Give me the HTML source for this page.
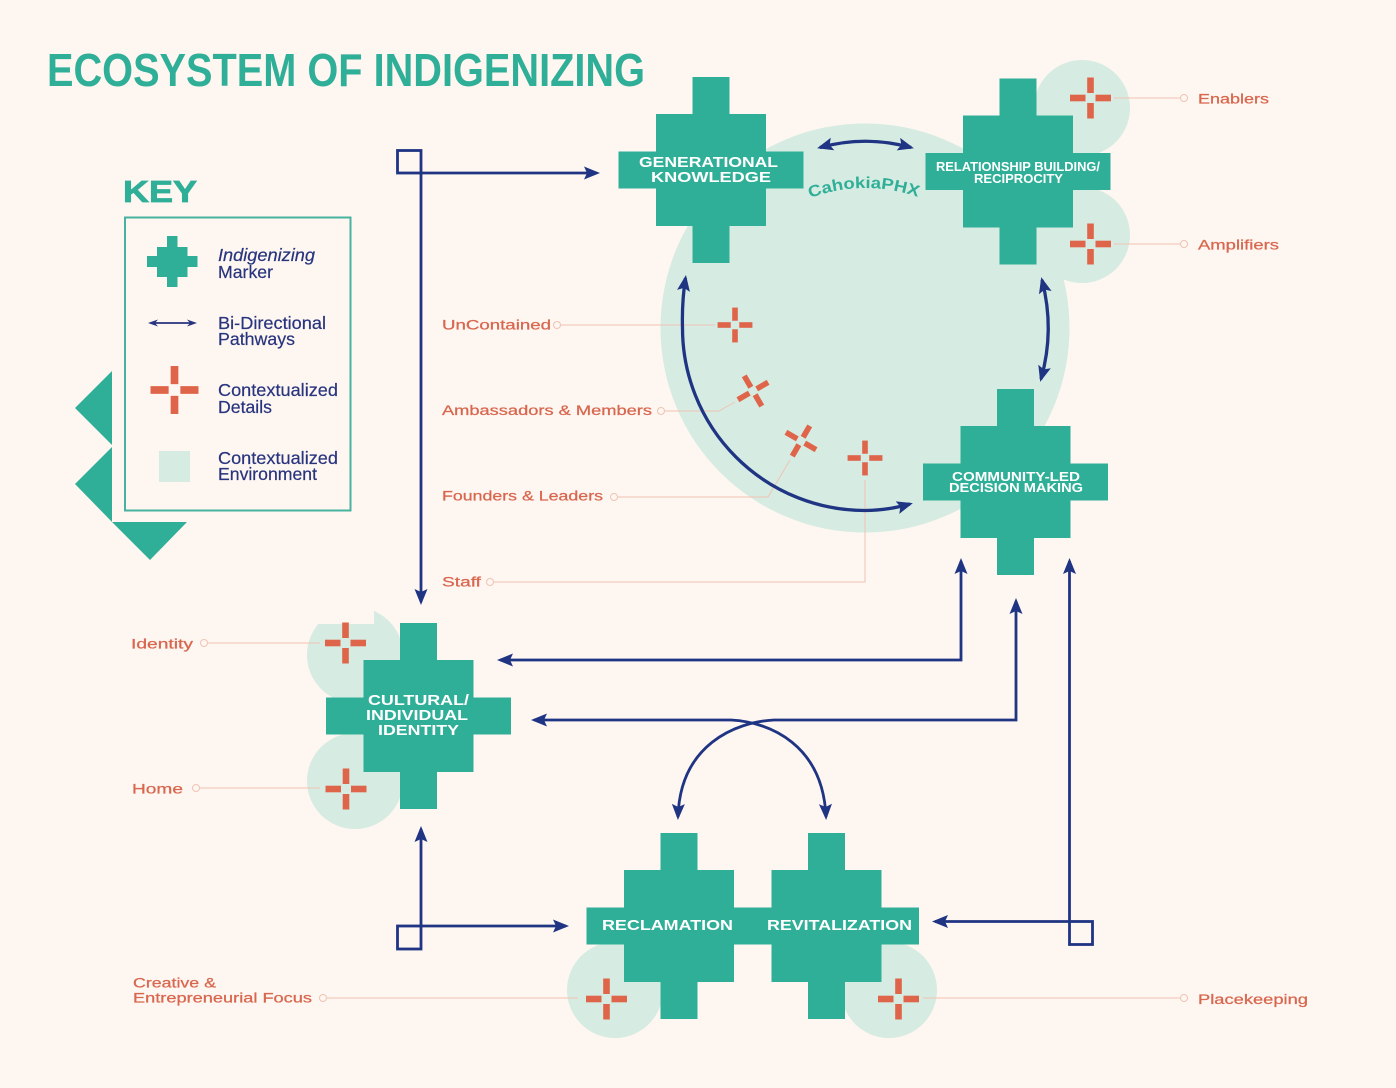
<!DOCTYPE html>
<html><head><meta charset="utf-8"><title>Ecosystem of Indigenizing</title>
<style>
html,body{margin:0;padding:0;background:#fef6f0}
svg{display:block}
text{font-family:"Liberation Sans",sans-serif}
.w{fill:#fff;font-weight:700;font-size:15px}
.l{fill:#d8674f;font-size:13.500px;stroke:#d8674f;stroke-width:.25}
.k{fill:#27347e;font-size:17.500px;stroke:#27347e;stroke-width:.2}
</style></head><body>
<svg width="1396" height="1088" viewBox="0 0 1396 1088" xmlns="http://www.w3.org/2000/svg">
<defs>
<marker id="a" markerUnits="userSpaceOnUse" markerWidth="24" markerHeight="18" refX="17" refY="9" orient="auto-start-reverse"><path d="M20 9L4 2.500L7 9L4 15.500z" fill="#1f3483"/></marker>
<marker id="s" markerUnits="userSpaceOnUse" markerWidth="14" markerHeight="12" refX="8" refY="6" orient="auto-start-reverse"><path d="M11 6L1 2.500L4 6L1 9.500z" fill="#27347e"/></marker>
<path id="cx" d="M-18.500-93H18.500V-56H55V-18.500H92.500V18.500H55V56H18.500V93H-18.500V56H-55V18.500H-92.500V-18.500H-55V-56H-18.500z" fill="#30af98"/>
<g id="rc" fill="#df654a"><rect x="-3.300" y="-20.500" width="6.600" height="15.500"/><rect x="-3.300" y="5" width="6.600" height="15.500"/><rect x="-20.500" y="-3.300" width="15.500" height="6.600"/><rect x="5" y="-3.300" width="15.500" height="6.600"/></g>
<path id="cp" d="M810 198Q865 178 921 198" fill="none"/>
</defs>
<rect width="1396" height="1088" fill="#fef6f0"/>

<!-- title -->
<text x="47" y="86" font-size="46" font-weight="700" fill="#30af98" textLength="598" lengthAdjust="spacingAndGlyphs">ECOSYSTEM OF INDIGENIZING</text>

<!-- environments -->
<g fill="#d6ebe2">
<circle cx="865" cy="328" r="204.500"/>
<circle cx="1082" cy="108" r="48"/>
<circle cx="1082" cy="235" r="48"/>
<circle cx="355" cy="655" r="48"/>
<circle cx="355" cy="781" r="48"/>
<circle cx="615" cy="990" r="48"/>
<circle cx="889" cy="990" r="48"/>
</g>
<rect x="300" y="600" width="74" height="24" fill="#fef6f0"/>

<!-- decorative triangles -->
<g fill="#30af98">
<path d="M112 371L75 408L112 445z"/>
<path d="M112 447L75 484L112 522z"/>
<path d="M112 522H187L150 560z"/>
</g>

<!-- key -->
<text x="123" y="202" font-size="31" font-weight="700" fill="#30af98" stroke="#30af98" stroke-width=".8" textLength="74" lengthAdjust="spacingAndGlyphs">KEY</text>
<rect x="125" y="217.500" width="225.500" height="293" fill="none" stroke="#45b39f" stroke-width="2"/>
<path d="M167 236H177.500V247H187.500V256H197.500V267H187.500V277H177.500V287H167V277H157V267H147V256H157V247H167z" fill="#30af98"/>
<line x1="151" y1="323" x2="194" y2="323" stroke="#27347e" stroke-width="1.800" marker-start="url(#s)" marker-end="url(#s)"/>
<use href="#rc" transform="translate(174.500 390) scale(1.170)"/>
<rect x="159" y="451" width="31" height="31" fill="#d6ebe2"/>
<text class="k" x="218" y="261" font-style="italic" textLength="97" lengthAdjust="spacingAndGlyphs">Indigenizing</text>
<text class="k" x="218" y="278" textLength="55" lengthAdjust="spacingAndGlyphs">Marker</text>
<text class="k" x="218" y="329" textLength="108" lengthAdjust="spacingAndGlyphs">Bi-Directional</text>
<text class="k" x="218" y="345" textLength="77" lengthAdjust="spacingAndGlyphs">Pathways</text>
<text class="k" x="218" y="396" textLength="120" lengthAdjust="spacingAndGlyphs">Contextualized</text>
<text class="k" x="218" y="413" textLength="54" lengthAdjust="spacingAndGlyphs">Details</text>
<text class="k" x="218" y="464" textLength="120" lengthAdjust="spacingAndGlyphs">Contextualized</text>
<text class="k" x="218" y="480" textLength="99" lengthAdjust="spacingAndGlyphs">Environment</text>

<!-- leader lines -->
<g fill="none" stroke="#f0c3b4" stroke-width="1">
<path d="M1114 98H1180M1114 244H1180"/>
<path d="M561 325H715"/>
<path d="M665 411H719L735 402"/>
<path d="M618 497H768L790 460"/>
<path d="M494 582H865V480"/>
<path d="M208 643H320M200 788H320"/>
<path d="M327 998H578M923 998H1180"/>
<circle cx="1184" cy="98" r="3.500"/><circle cx="1184" cy="244" r="3.500"/>
<circle cx="557" cy="325" r="3.500"/><circle cx="661" cy="411" r="3.500"/>
<circle cx="614" cy="497" r="3.500"/><circle cx="490" cy="582" r="3.500"/>
<circle cx="204" cy="643" r="3.500"/><circle cx="196" cy="788" r="3.500"/>
<circle cx="323" cy="998" r="3.500"/><circle cx="1184" cy="998" r="3.500"/>
</g>

<!-- connectors -->
<g fill="none" stroke="#1f3483" stroke-width="2.800">
<rect x="397.500" y="150.500" width="23.500" height="22.500"/>
<path d="M421 173H597" marker-end="url(#a)"/>
<path d="M421 173V602" marker-end="url(#a)"/>
<rect x="397.500" y="926" width="23.500" height="23"/>
<path d="M421 926V829" marker-end="url(#a)"/>
<path d="M421 926H566" marker-end="url(#a)"/>
<rect x="1069.500" y="921.500" width="23" height="23"/>
<path d="M1069.500 921.500V561" marker-end="url(#a)"/>
<path d="M1069.500 921.500H935" marker-end="url(#a)"/>
<path d="M961 561V660H500" marker-start="url(#a)" marker-end="url(#a)"/>
<path d="M1016 601V720H774C735 722 680 745 678 817" marker-start="url(#a)" marker-end="url(#a)"/>
<path d="M534 720H731C770 722 823 745 826 817" marker-start="url(#a)" marker-end="url(#a)"/>
<path d="M685.500 278C683 294 682 310 682.500 328A182.500 182.500 0 0 0 865 510.500C881 510.500 896 508 910 504" stroke-width="3.300" marker-start="url(#a)" marker-end="url(#a)"/>
<path d="M820 147.500Q865 135 911 147.500" stroke-width="3.300" marker-start="url(#a)" marker-end="url(#a)"/>
<path d="M1042 280Q1055 330 1041 379" stroke-width="3.300" marker-start="url(#a)" marker-end="url(#a)"/>
</g>

<!-- markers -->
<use href="#cx" x="711" y="170"/>
<use href="#cx" x="1018" y="171.500"/>
<use href="#cx" x="1015.500" y="482"/>
<use href="#cx" x="418.500" y="716"/>
<use href="#cx" x="679" y="926"/>
<use href="#cx" x="826.500" y="926"/>

<!-- node labels -->
<text class="w" x="639" y="167" textLength="139" lengthAdjust="spacingAndGlyphs">GENERATIONAL</text>
<text class="w" x="651" y="182" textLength="120" lengthAdjust="spacingAndGlyphs">KNOWLEDGE</text>
<text class="w" x="936" y="171" style="font-size:13px" textLength="164" lengthAdjust="spacingAndGlyphs">RELATIONSHIP BUILDING/</text>
<text class="w" x="974" y="183" style="font-size:13px" textLength="89" lengthAdjust="spacingAndGlyphs">RECIPROCITY</text>
<text class="w" x="952" y="481" style="font-size:12.500px" textLength="128" lengthAdjust="spacingAndGlyphs">COMMUNITY-LED</text>
<text class="w" x="949" y="492" style="font-size:12.500px" textLength="134" lengthAdjust="spacingAndGlyphs">DECISION MAKING</text>
<text class="w" x="368" y="705" textLength="101" lengthAdjust="spacingAndGlyphs">CULTURAL/</text>
<text class="w" x="366" y="720" textLength="102" lengthAdjust="spacingAndGlyphs">INDIVIDUAL</text>
<text class="w" x="378" y="735" textLength="81" lengthAdjust="spacingAndGlyphs">IDENTITY</text>
<text class="w" x="602" y="930" textLength="131" lengthAdjust="spacingAndGlyphs">RECLAMATION</text>
<text class="w" x="767" y="930" textLength="145" lengthAdjust="spacingAndGlyphs">REVITALIZATION</text>
<text font-size="16" fill="#30af98" font-weight="700"><textPath href="#cp" textLength="110" lengthAdjust="spacingAndGlyphs">CahokiaPHX</textPath></text>

<!-- red detail crosses -->
<use href="#rc" transform="translate(1090.500 98)"/>
<use href="#rc" transform="translate(1090.500 244)"/>
<use href="#rc" transform="translate(735 325) scale(.85)"/>
<use href="#rc" transform="translate(753 391) rotate(-30) scale(.85)"/>
<use href="#rc" transform="translate(801 441) rotate(30) scale(.85)"/>
<use href="#rc" transform="translate(865 458) scale(.85)"/>
<use href="#rc" transform="translate(345.500 643)"/>
<use href="#rc" transform="translate(346 789)"/>
<use href="#rc" transform="translate(606.500 999)"/>
<use href="#rc" transform="translate(898.500 999)"/>

<!-- detail labels -->
<text class="l" x="1198" y="103.500" textLength="71" lengthAdjust="spacingAndGlyphs">Enablers</text>
<text class="l" x="1198" y="249.500" textLength="81" lengthAdjust="spacingAndGlyphs">Amplifiers</text>
<text class="l" x="442" y="329.500" textLength="109" lengthAdjust="spacingAndGlyphs">UnContained</text>
<text class="l" x="442" y="415" textLength="210" lengthAdjust="spacingAndGlyphs">Ambassadors &amp; Members</text>
<text class="l" x="442" y="500.500" textLength="161" lengthAdjust="spacingAndGlyphs">Founders &amp; Leaders</text>
<text class="l" x="442" y="586.500" textLength="39" lengthAdjust="spacingAndGlyphs">Staff</text>
<text class="l" x="131" y="648.500" textLength="62" lengthAdjust="spacingAndGlyphs">Identity</text>
<text class="l" x="132" y="793.500" textLength="51" lengthAdjust="spacingAndGlyphs">Home</text>
<text class="l" x="133" y="987.500" textLength="83" lengthAdjust="spacingAndGlyphs">Creative &amp;</text>
<text class="l" x="133" y="1002.500" textLength="179" lengthAdjust="spacingAndGlyphs">Entrepreneurial Focus</text>
<text class="l" x="1198" y="1004" textLength="110" lengthAdjust="spacingAndGlyphs">Placekeeping</text>
</svg>
</body></html>
